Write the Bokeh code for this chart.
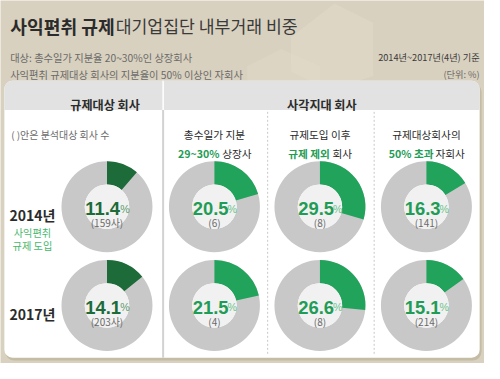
import math
from bokeh.plotting import figure
from bokeh.models import Range1d
from bokeh.core.properties import value
from bokeh.embed import file_html
from bokeh.resources import INLINE

# ---------------- data ----------------
title_bold = "사익편취 규제"
title_rest = "대기업집단 내부거래 비중"
notes = ["대상: 총수일가 지분율 20~30%인 상장회사",
         "사익편취 규제대상 회사의 지분율이 50% 이상인 자회사"]
basis = ["2014년~2017년(4년) 기준", "(단위: %)"]
panel_titles = ["규제대상 회사", "사각지대 회사"]
count_note = "( )안은 분석대상 회사 수"
years = ["2014년", "2017년"]
reg_intro = ["사익편취", "규제 도입"]
reg_pct = [11.4, 14.1]
reg_cnt = ["159사", "203사"]
col_line1 = ["총수일가 지분", "규제도입 이후", "규제대상회사의"]
col_hl = ["29~30%", "규제 제외", "50% 초과"]
col_line2 = ["상장사", "회사", "자회사"]
blind_pct_2014 = [20.5, 29.5, 16.3]
blind_pct_2017 = [21.5, 26.6, 15.1]
blind_cnt_2014 = ["6", "8", "141"]
blind_cnt_2017 = ["4", "8", "214"]

# ---------------- layout ----------------
W, H = 500, 379
S = 484 / 500
KR = "Noto Sans CJK KR"
NUMF = "Liberation Sans"
BG = "#d9d1bf"
DARK = "#2b2b2b"
GREY_T = "#6a6a6a"
G_DARK = "#1c6b39"
G_DARK_PCT = "#5d9a6c"
G_MAIN = "#21a35b"
G_MAIN_TXT = "#1f9c56"
G_PCT = "#6cc48c"
G_LIGHT = "#48b86d"
RING = "#c8c8c8"
INNER = "#f1f1f1"
row_y = [215, 317]
reg_x = 110
col_x = [221, 330, 440]
R_OUT, R_IN = 47, 23


def Y(v):
    return H - v


p = figure(width=484, height=363, x_range=Range1d(0, W), y_range=Range1d(2, 377),
           toolbar_location=None, output_backend="svg", x_axis_type=None, y_axis_type=None,
           min_border=0, min_border_left=0, min_border_right=0, min_border_top=0,
           min_border_bottom=0, background_fill_color=BG, border_fill_color=BG,
           outline_line_color=None)
p.grid.visible = False


def put(x, y, s, size, color, bold=False, align="left", font=KR, baseline=None, adj=3.5):
    # y is the visual centre of the text line (original image pixels);
    # text is drawn on its alphabetic baseline for predictable placement
    if baseline is None:
        yb = y + 0.37 * size + adj
    else:
        yb = baseline
    p.text(x=[x], y=[Y(yb)], text=[s], text_font=value(font),
           text_font_size=f"{size * S:.2f}px", text_color=color,
           text_font_style="bold" if bold else "normal",
           text_align=align, text_baseline="alphabetic")


def tw(s, size, bold=False):
    w = 0.0
    for c in s:
        if '\uac00' <= c <= '\ud7a3':
            w += 0.9
        elif c == ' ':
            w += 0.24
        elif c in '()':
            w += 0.33
        elif c == '%':
            w += 0.85
        elif c == '~':
            w += 0.6
        else:
            w += 0.6 if bold else 0.55
    return w * size


# faint illustration in the background
p.patch(x=[300, 345, 385, 385, 340, 300], y=[Y(40), Y(5), Y(25), Y(80), Y(95), Y(75)],
        fill_color="#e3dccb", fill_alpha=0.5, line_color=None)
p.patch(x=[255, 290, 330, 330, 290, 255], y=[Y(70), Y(52), Y(70), Y(88), Y(100), Y(85)],
        fill_color="#e3dccb", fill_alpha=0.4, line_color=None)

# titles
put(10, 20, title_bold, 18.8, DARK, bold=True, adj=1)
put(119, 20, title_rest, 17.8, "#3a3a3a", adj=1)
put(10, 53, notes[0], 10.6, GREY_T)
put(10, 71, notes[1], 10.6, GREY_T)
put(495, 53, basis[0], 9.5, "#3a3a3a", align="right")
put(495, 71, basis[1], 9.5, GREY_T, align="right")

# panel
p.quad(left=[5], right=[497], top=[Y(87)], bottom=[Y(374)], fill_color="#c5bca6",
       line_color=None, border_radius=9)
p.quad(left=[4], right=[495], top=[Y(85)], bottom=[Y(371)], fill_color="white",
       line_color=None, border_radius=8)
p.quad(left=[4], right=[495], top=[Y(85)], bottom=[Y(115)], fill_color="#e2e2e2",
       line_color=None, border_radius=(8, 8, 0, 0))
p.segment(x0=[168], y0=[Y(85)], x1=[168], y1=[Y(115)], line_color="white", line_width=1.5)
p.segment(x0=[168], y0=[Y(115)], x1=[168], y1=[Y(371)], line_color="#d2d2d2", line_width=2)
p.segment(x0=[276, 386], y0=[Y(117)] * 2, x1=[276, 386], y1=[Y(369)] * 2,
          line_color="#c8c8c8", line_width=1, line_dash="2 2")

put(108, 101, panel_titles[0], 12.5, DARK, bold=True, align="center")
put(332, 101, panel_titles[1], 12.5, DARK, bold=True, align="center")
put(11, 133, count_note, 10.3, GREY_T)

# column headers
CF = 11
for i, cx in enumerate(col_x):
    put(cx, 133, col_line1[i], CF, DARK, align="center")
    w1 = tw(col_hl[i], CF, bold=True)
    w2 = tw(col_line2[i], CF)
    gap = 0.3 * CF
    left = cx - (w1 + gap + w2) / 2
    put(left, 152, col_hl[i], CF, G_MAIN_TXT, bold=True)
    put(left + w1 + gap, 152, col_line2[i], CF, DARK)

# year labels
for j, yr in enumerate(years):
    put(33, row_y[j], yr, 14.5, DARK, bold=True, align="center")
put(33, 234, reg_intro[0], 10.5, G_LIGHT, align="center")
put(33, 248, reg_intro[1], 10.5, G_LIGHT, align="center")

NUM_FS = 19
PCT_FS = 11


def donut(cx, cy, pct, cnt, wedge_col, num_col, pct_col):
    p.annulus(x=[cx], y=[Y(cy)], inner_radius=R_IN, outer_radius=R_OUT,
              fill_color=RING, line_color=None)
    p.annular_wedge(x=[cx], y=[Y(cy)], inner_radius=R_IN, outer_radius=R_OUT,
                    start_angle=math.pi / 2,
                    end_angle=math.pi / 2 - 2 * math.pi * pct / 100,
                    direction="clock", fill_color=wedge_col, line_color=None)
    p.circle(x=[cx], y=[Y(cy)], radius=R_IN, fill_color=INNER, line_color=None)
    num = f"{pct:.1f}"
    wn = sum(0.556 if c.isdigit() else 0.278 for c in num) * NUM_FS
    wp = 0.8 * PCT_FS
    left = cx - (wn + wp) / 2 + 0.5
    put(left, 0, num, NUM_FS, num_col, bold=True, font=NUMF, baseline=cy + 2)
    put(left + wn - 1.0, 0, "%", PCT_FS, pct_col, font=NUMF, baseline=cy + 2)
    put(cx, cy + 9.5, f"({cnt})", 10.3, "#6a6a6a", align="center")


for j in range(2):
    donut(reg_x, row_y[j], reg_pct[j], reg_cnt[j], G_DARK, G_DARK, G_DARK_PCT)

for i, cx in enumerate(col_x):
    donut(cx, row_y[0], blind_pct_2014[i], blind_cnt_2014[i], G_MAIN, G_MAIN_TXT, G_PCT)
    donut(cx, row_y[1], blind_pct_2017[i], blind_cnt_2017[i], G_MAIN, G_MAIN_TXT, G_PCT)

open("out.html", "w").write(file_html(p, INLINE))
